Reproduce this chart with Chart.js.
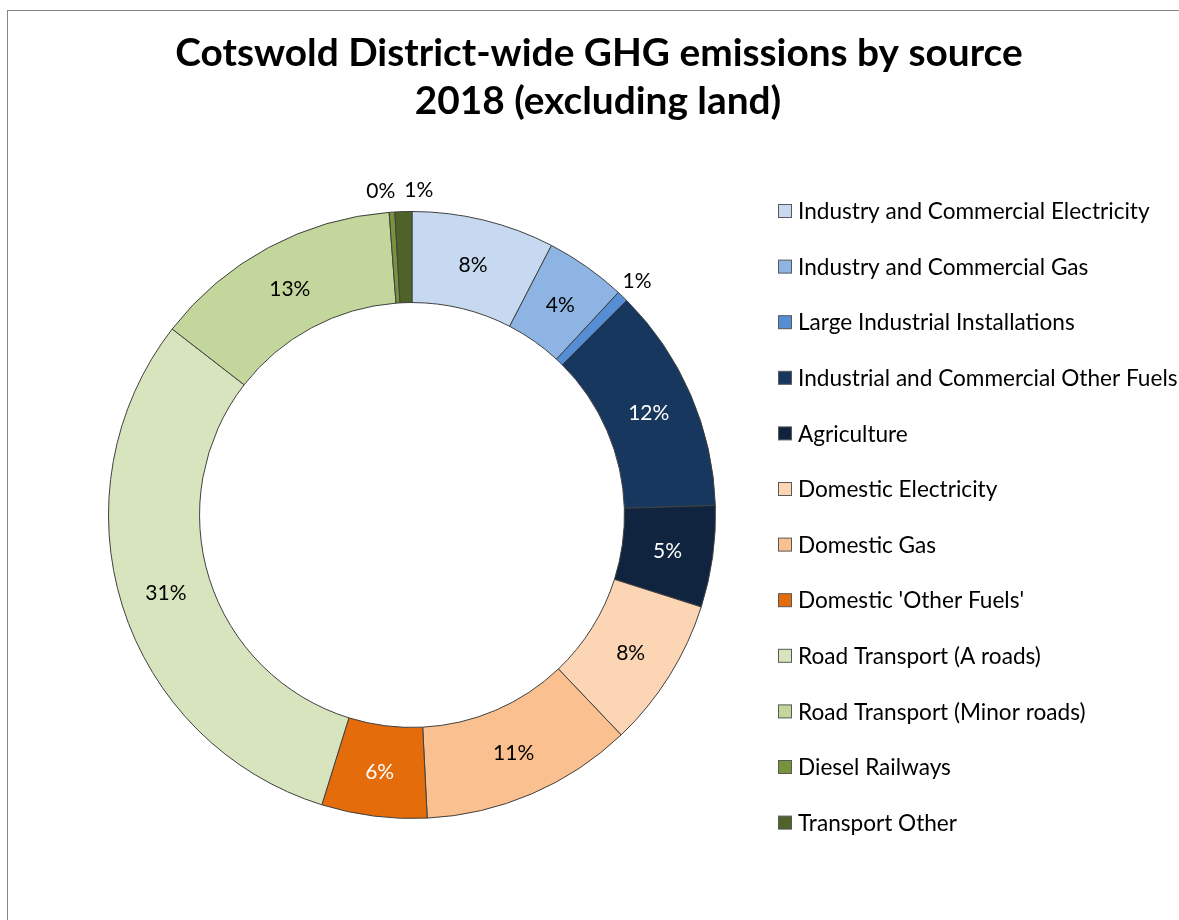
<!DOCTYPE html>
<html>
<head>
<meta charset="utf-8">
<script src="https://cdn.jsdelivr.net/npm/chart.js@4.4.0/dist/chart.umd.min.js"></script>
<style>
html, body { margin: 0; padding: 0; background: #fff; overflow: hidden; }
#frame { position: absolute; left: 7px; top: 10px; width: 1300px; height: 1000px;
         border-left: 1px solid #868686; border-top: 1px solid #868686; }
#wrap { position: absolute; left: 0; top: 0; width: 1179px; height: 920px; }
</style>
</head>
<body>
<div id="frame"></div>
<div id="wrap"><canvas id="ghgChart"></canvas></div>
<script>
const titleLines = ["Cotswold District-wide GHG emissions by source", "2018 (excluding land)"];

const categories = [
    "Industry and Commercial Electricity",
    "Industry and Commercial Gas",
    "Large Industrial Installations",
    "Industrial and Commercial Other Fuels",
    "Agriculture",
    "Domestic Electricity",
    "Domestic Gas",
    "Domestic 'Other Fuels'",
    "Road Transport (A roads)",
    "Road Transport (Minor roads)",
    "Diesel Railways",
    "Transport Other"
];

// share of total emissions, %
const shares = [7.6, 4.3, 0.6, 12.0, 5.4, 8.0, 11.3, 5.6, 30.7, 13.3, 0.3, 0.9];

const sliceColors = ["#c6d9f1", "#8eb4e3", "#558ed5", "#17375e", "#10243f", "#fcd5b5",
                     "#fac090", "#e46c0a", "#d7e4bd", "#c3d69b", "#77933c", "#4f6228"];
const labelColors = ["#000", "#000", "#000", "#fff", "#fff", "#000",
                     "#000", "#fff", "#000", "#000", "#000", "#000"];

const sliceLabels = {
    id: 'sliceLabels',
    afterDatasetsDraw(chart) {
        const ctx = chart.ctx;
        const meta = chart.getDatasetMeta(0);
        const total = shares.reduce((a, b) => a + b, 0);
        const outside = [];
        ctx.save();
        ctx.font = '21px Lato';
        ctx.textAlign = 'center';
        ctx.textBaseline = 'middle';
        meta.data.forEach((arc, i) => {
            const pct = shares[i] / total * 100;
            const text = Math.round(pct) + '%';
            const p = arc.getProps(['x', 'y', 'startAngle', 'endAngle', 'innerRadius', 'outerRadius'], true);
            const mid = (p.startAngle + p.endAngle) / 2;
            if (pct >= 1) {
                const r = (p.innerRadius + p.outerRadius) / 2;
                ctx.fillStyle = labelColors[i];
                ctx.fillText(text, p.x + Math.cos(mid) * r, p.y + Math.sin(mid) * r + 1);
            } else {
                const r = p.outerRadius + 21;
                outside.push({ text, x: p.x + Math.cos(mid) * r, y: p.y + Math.sin(mid) * r, w: ctx.measureText(text).width });
            }
        });
        // push apart labels that crowd each other (small slices at the top)
        for (let i = 1; i < outside.length; i++) {
            const a = outside[i - 1], b = outside[i];
            const need = (a.w + b.w) / 2 + 9;
            if (Math.abs(a.y - b.y) < 20 && Math.abs(b.x - a.x) < need) {
                const c = (a.x + b.x) / 2 + 3;
                a.x = c - need / 2;
                b.x = c + need / 2;
            }
        }
        ctx.fillStyle = '#000';
        outside.forEach(o => ctx.fillText(o.text, o.x, o.y));
        ctx.restore();
    },
    afterDraw(chart) {
        const ctx = chart.ctx;
        ctx.save();
        // title
        ctx.fillStyle = '#000';
        ctx.font = 'bold 38.8px Lato';
        ctx.textAlign = 'center';
        ctx.textBaseline = 'alphabetic';
        ctx.fillText(titleLines[0], 599, 66);
        ctx.fillText(titleLines[1], 598, 114);
        // legend
        ctx.font = '22.6px Lato';
        ctx.textAlign = 'left';
        ctx.textBaseline = 'middle';
        categories.forEach((name, i) => {
            const y = 211 + i * 55.6;
            ctx.fillStyle = sliceColors[i];
            ctx.fillRect(778.5, y - 6.5, 13, 13);
            ctx.strokeStyle = '#595959';
            ctx.lineWidth = 1;
            ctx.strokeRect(778.5, y - 6.5, 13, 13);
            ctx.fillStyle = '#000';
            ctx.fillText(name, 798, y + 1);
        });
        ctx.restore();
    }
};

new Chart(document.getElementById("ghgChart"), {
    type: 'doughnut',
    data: {
        labels: categories,
        datasets: [{
            data: shares,
            backgroundColor: sliceColors,
            borderColor: '#404040',
            borderWidth: 1
        }]
    },
    options: {
        responsive: true,
        maintainAspectRatio: false,
        animation: false,
        events: [],
        cutout: '70%',
        layout: { padding: { left: 108, top: 211, right: 463, bottom: 101 } },
        plugins: {
            legend: { display: false },
            title: { display: false },
            tooltip: { enabled: false }
        }
    },
    plugins: [sliceLabels]
});
</script>
</body>
</html>
